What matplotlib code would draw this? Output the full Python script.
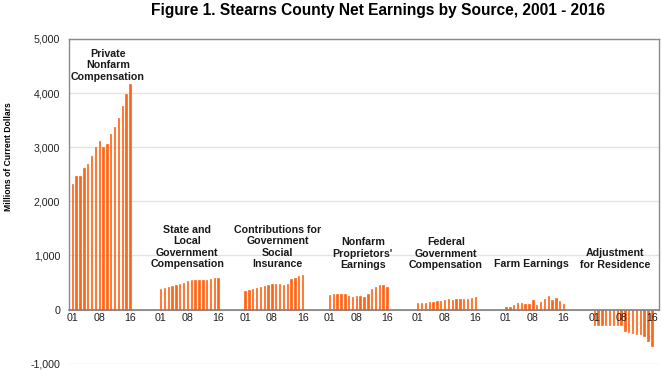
import matplotlib.pyplot as plt
from matplotlib.ticker import FuncFormatter

plt.rcParams['font.family'] = ['Liberation Sans', 'DejaVu Sans']

years = ['01', '02', '03', '04', '05', '06', '07', '08',
         '09', '10', '11', '12', '13', '14', '15', '16']

sources = ['Private\nNonfarm\nCompensation',
           'State and\nLocal\nGovernment\nCompensation',
           'Contributions for\nGovernment\nSocial\nInsurance',
           'Nonfarm\nProprietors\'\nEarnings',
           'Federal\nGovernment\nCompensation',
           'Farm Earnings',
           'Adjustment\nfor Residence']

# millions of current dollars, 2001 - 2016
private_nonfarm = [2315, 2463, 2470, 2617, 2685, 2833, 3012, 3124,
                   3012, 3055, 3253, 3382, 3537, 3759, 3981, 4167]
state_local = [388, 407, 425, 438, 450, 481, 487, 530,
               555, 555, 548, 542, 548, 561, 579, 592]
contributions = [345, 370, 376, 401, 419, 438, 462, 481,
                 481, 475, 456, 481, 573, 592, 616, 647]
proprietors = [271, 283, 283, 283, 283, 259, 234, 246,
               246, 234, 283, 376, 419, 456, 456, 419]
federal = [117, 117, 129, 142, 142, 154, 160, 179,
           203, 172, 191, 191, 203, 203, 216, 228]
farm = [55, 55, 80, 123, 123, 111, 111, 172,
        86, 135, 191, 246, 185, 222, 160, 99]
adjustment = [-290, -290, -280, -280, -280, -280, -280, -285,
              -400, -420, -440, -450, -460, -490, -580, -670]

series = [private_nonfarm, state_local, contributions, proprietors,
          federal, farm, adjustment]

# layout: where each group starts on the category axis, and label placement
group_start = [0, 23, 45, 67, 90, 113, 136]
label_dx = [1.8, -0.6, 1.0, 1.2, -0.2, -0.8, -2.0]
label_y = [4516, 1157, 1157, 1035, 1035, 837, 935]

fig = plt.figure(figsize=(6.62, 3.70), dpi=100)
ax = fig.add_axes([68.5 / 662, 6.3 / 370, 591 / 662, 324.7 / 370])

bar_color = '#ff6414'
tick_pos = []
tick_lab = []
for g, vals in enumerate(series):
    xs = [group_start[g] + i for i in range(len(vals))]
    ax.bar(xs, vals, width=0.36, color=bar_color, edgecolor=bar_color,
           linewidth=0.5, zorder=3)
    for i in (0, 7, 15):
        tick_pos.append(xs[i])
        tick_lab.append(years[i])
    ax.text(group_start[g] + 7.5 + label_dx[g], label_y[g], sources[g],
            ha='center', va='center', fontsize=7.7, fontweight='bold',
            color='#1a1a1a', linespacing=1.2, zorder=4)

ax.set_xlim(-1, 153)
ax.set_ylim(-1000, 5000)
ax.set_yticks(range(-1000, 5001, 1000))
ax.yaxis.set_major_formatter(FuncFormatter(lambda v, p: f'{int(v):,}'))
ax.set_xticks(tick_pos)
ax.set_xticklabels(tick_lab)
ax.tick_params(axis='y', length=0, pad=6, labelsize=7.7, colors='#222222')
ax.tick_params(axis='x', length=0, pad=2.5, labelsize=7.7, colors='#222222')

ax.grid(axis='y', color='#e4e4e4', linewidth=1.0)
ax.set_axisbelow(True)
# year labels sit on top of the negative bars
ax.xaxis.set_zorder(6)

for side in ('left', 'right'):
    ax.spines[side].set_bounds(0, 5000)
    ax.spines[side].set_color('#8a8a8a')
    ax.spines[side].set_linewidth(1.0)
ax.spines['top'].set_color('#8a8a8a')
ax.spines['top'].set_linewidth(1.0)
ax.spines['bottom'].set_position(('data', 0))
ax.spines['bottom'].set_color('#808080')
ax.spines['bottom'].set_linewidth(1.2)
ax.spines['bottom'].set_zorder(5)

fig.text(378 / 662, 1 - 11 / 370,
         'Figure 1. Stearns County Net Earnings by Source, 2001 - 2016',
         ha='center', va='center', fontsize=11.2, fontweight='bold')
fig.text(8.5 / 662, 1 - 157 / 370, 'Millions of Current Dollars',
         rotation=90, ha='center', va='center', fontsize=6.2,
         fontweight='bold')

fig.savefig('out.png', dpi=100)
